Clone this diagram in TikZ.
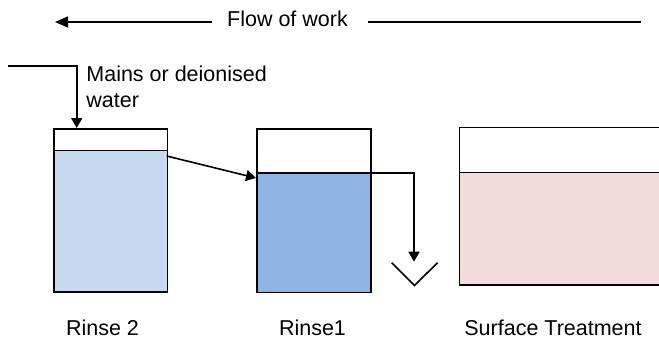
\documentclass[tikz,border=0pt]{standalone}
\usepackage{fontspec}
\setmainfont{Liberation Sans}
\usetikzlibrary{arrows.meta}
\definecolor{rinsetwo}{HTML}{C6D9F1}
\definecolor{rinseone}{HTML}{8DB3E2}
\definecolor{surface}{HTML}{F2DCDB}
\begin{document}
\begin{tikzpicture}[x=0.5pt,y=-0.5pt,
  line/.style={line width=0.8pt},
  arr/.style={line, -{Triangle[length=5pt,width=5.5pt]}},
  lbl/.style={font=\fontsize{10.75}{12.8}\selectfont, inner sep=0pt},
  tank/.style={draw, line width=0.8pt, inner sep=0pt, anchor=north west}]
\useasboundingbox (0,0) rectangle (659,339);
% flow of work
\node[lbl, anchor=base] (flow) at (287.5,26.7) {Flow of work};
\coordinate (flowL) at (55,22);
\coordinate (flowLs) at (212,22);
\coordinate (flowRs) at (368,22);
\coordinate (flowR) at (641,22);
\draw[line, -{Triangle[length=6.5pt,width=5.5pt]}] (flowLs) -- (flowL);
\draw[line] (flowRs) -- (flowR);
% Rinse 2 tank
\fill[rinsetwo] (53.3,150.3) rectangle (166.7,291.7);
\node[tank, minimum width=56.7pt, minimum height=81.7pt] (r2) at (53.3,128) {};
\draw[line] (53.3,150.3) coordinate (r2wl) -- (166.7,150.3) coordinate (r2wr);
% Rinse 1 tank
\fill[rinseone] (256,172.7) rectangle (370,291.7);
\node[tank, minimum width=57pt, minimum height=81.85pt] (r1) at (256,128) {};
\draw[line] (256,172.7) coordinate (r1wl) -- (370,172.7) coordinate (r1wr);
% Surface treatment tank (runs off right edge)
\fill[surface] (459.3,172.3) rectangle (659,285);
\draw[line] (659,127.3) -- (459.3,127.3) -- (459.3,285) -- (659,285);
\draw[line] (459.3,172.3) coordinate (stwl) -- (659,172.3);
% mains inlet
\coordinate (mainsStart) at (8,65.7);
\coordinate (mainsCorner) at (76.7,65.7);
\draw[arr] (mainsStart) -- (mainsCorner) -- (mainsCorner |- r2.north);
\node[lbl, anchor=base west, align=left] (mains) at (86,107.3) {Mains or deionised\\water};
% rinse2 -> rinse1
\coordinate (r2out) at (166.7,156);
\coordinate (r1in) at (256,178);
\draw[arr] (r2out) -- (r1in);
% overflow to drain
\coordinate (ovCorner) at (414,172.7);
\coordinate (drainTop) at (414,261.7);
\draw[arr] (r1wr) -- (ovCorner) -- (drainTop);
\coordinate (vL) at (391.7,262.7);
\coordinate (vB) at (414.5,285.5);
\coordinate (vR) at (437.5,262.7);
\draw[line] (vL) -- (vB) -- (vR);
% labels
\node[lbl, anchor=base] (l2) at (102.5,335) {Rinse 2};
\node[lbl, anchor=base] (l1) at (312.5,335) {Rinse1};
\node[lbl, anchor=base] (ls) at (553,335) {Surface Treatment};
\end{tikzpicture}
\end{document}
